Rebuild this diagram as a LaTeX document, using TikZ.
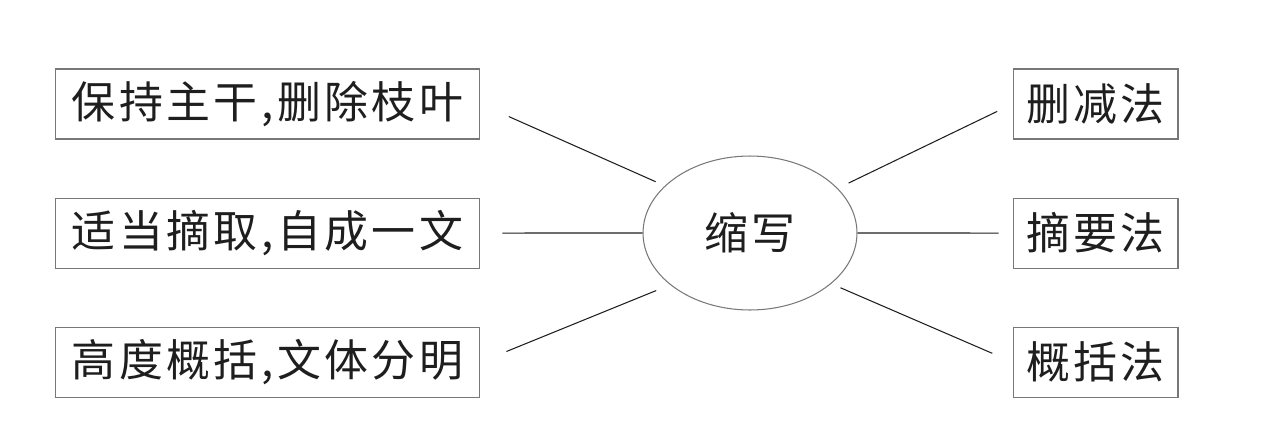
\documentclass[tikz,border=0pt]{standalone}
\usepackage{fontspec}
\setmainfont{Noto Sans CJK SC}[LetterSpace=8]
\usepackage{xcolor}
\usepackage{tikz}
\usetikzlibrary{
  positioning,
  shapes.geometric
}
\definecolor{xwgray}{RGB}{120,120,120}
\definecolor{xwink}{RGB}{30,30,30}
\tikzset{
  xwBox/.style={
    rectangle,
    draw=xwgray,
    line width=0.6pt,
    minimum height=1.4cm,
    inner sep=0pt,
    text=xwink,
    font=\fontsize{25pt}{30pt}\selectfont
  },
  xwCore/.style={
    ellipse,
    draw=xwgray,
    line width=0.6pt,
    minimum width=4.28cm,
    minimum height=3.08cm,
    inner sep=0pt,
    text=xwink,
    font=\fontsize{25pt}{30pt}\selectfont
  },
  xwLine/.style={
    draw=xwink,
    line width=0.6pt
  }
}

\begin{document}
\begin{tikzpicture}[x=0.02cm, y=-0.02cm, node distance=1.16cm]
  \useasboundingbox (0,0) rectangle (1273,433);

  \node[xwCore] (suoxie) at (750,233) {缩写};

  % left: principles
  \node[xwBox, minimum width=8.5cm] (keep) at (267.5,104) {保持主干,删除枝叶};
  \node[xwBox, minimum width=8.5cm, below=of keep] (pick) {适当摘取,自成一文};
  \node[xwBox, minimum width=8.5cm, below=of pick] (sum) {高度概括,文体分明};

  % right: methods
  \node[xwBox, minimum width=3.3cm] (cut) at (1095.5,104) {删减法};
  \node[xwBox, minimum width=3.3cm, below=of cut] (extract) {摘要法};
  \node[xwBox, minimum width=3.3cm, below=of extract] (general) {概括法};

  \draw[xwLine, shorten <=0.62cm, shorten >=0.2cm] (keep.east) -- (suoxie.151);
  \draw[xwLine, shorten <=0.44cm] (pick.east) -- (suoxie.west);
  \draw[xwLine, shorten <=0.56cm, shorten >=0.3cm] (sum.east) -- (suoxie.-147.5);

  \draw[xwLine, shorten <=0.24cm, shorten >=0.34cm] (suoxie.27.5) -- (cut.west);
  \draw[xwLine, shorten >=0.28cm] (suoxie.east) -- (extract.west);
  \draw[xwLine, shorten <=0.2cm, shorten >=0.44cm] (suoxie.-32.6) -- (general.west);
\end{tikzpicture}
\end{document}
